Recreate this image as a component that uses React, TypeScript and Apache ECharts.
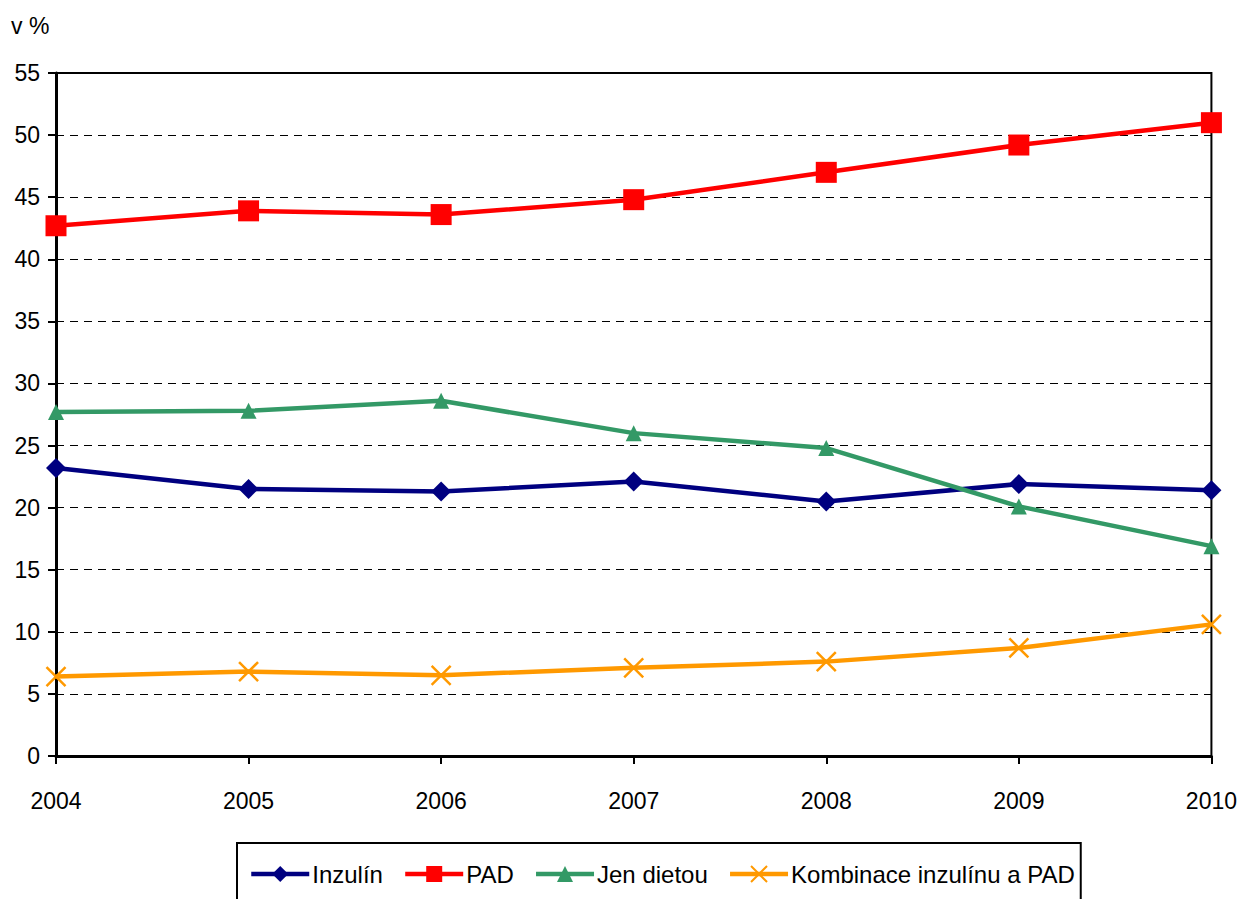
import React, { useEffect, useRef } from "react";
import * as echarts from "echarts";

const years = ["2004", "2005", "2006", "2007", "2008", "2009", "2010"];
const inzulin = [23.2, 21.5, 21.3, 22.1, 20.5, 21.9, 21.4];
const pad = [42.7, 43.9, 43.6, 44.8, 47.0, 49.2, 51.0];
const dieta = [27.7, 27.8, 28.6, 26.0, 24.8, 20.1, 16.9];
const kombinace = [6.4, 6.8, 6.5, 7.1, 7.6, 8.7, 10.6];

const FONT = "'Liberation Sans Narrow', 'Arial Narrow', 'Liberation Sans', Arial, sans-serif";

export default function App() {
  const ref = useRef<HTMLDivElement>(null);
  useEffect(() => {
    const chart = echarts.init(ref.current!, null, { renderer: "svg" });
    const mk = (name: string, data: number[], color: string, symbol: string, size: number, extra: any = {}) => ({
      name,
      type: "line",
      data,
      symbol,
      symbolSize: size,
      showAllSymbol: true,
      lineStyle: { color, width: 4.5 },
      itemStyle: { color, ...extra },
      z: 3,
    });
    chart.setOption({
      animation: false,
      textStyle: { fontFamily: FONT },
      grid: { left: 56, right: 28, top: 73, bottom: 143, show: true, borderColor: "#000", borderWidth: 2, backgroundColor: "transparent" },
      graphic: [
        { type: "text", left: 11, top: 14, style: { text: "v %", font: `23px ${FONT}`, fill: "#000" } },
      ],
      xAxis: {
        type: "category",
        data: years,
        boundaryGap: false,
        axisLine: { lineStyle: { color: "#000", width: 3 } },
        axisTick: { show: true, length: 8, lineStyle: { color: "#000", width: 2 } },
        axisLabel: { color: "#000", fontSize: 23, margin: 33, fontFamily: FONT },
        splitLine: { show: false },
      },
      yAxis: {
        type: "value",
        min: 0,
        max: 55,
        interval: 5,
        axisLine: { show: true, lineStyle: { color: "#000", width: 3 } },
        axisTick: { show: true, length: 8, lineStyle: { color: "#000", width: 2 } },
        axisLabel: { color: "#000", fontSize: 23, margin: 16, fontFamily: FONT },
        splitLine: { show: true, lineStyle: { color: "#000", width: 1, type: [8, 6] } },
      },
      legend: {
        left: 237,
        top: 843,
        padding: [19, 6, 30, 12],
        borderColor: "#000",
        borderWidth: 2,
        itemWidth: 58,
        itemHeight: 20,
        itemGap: 20,
        lineStyle: { width: 4.5 },
        textStyle: { color: "#000", fontSize: 24, fontFamily: FONT, padding: [0, 0, 0, -2] },
        data: ["Inzulín", "PAD", "Jen dietou", "Kombinace inzulínu a PAD"],
      },
      series: [
        mk("Inzulín", inzulin, "#000080", "diamond", 20),
        mk("PAD", pad, "#FF0000", "rect", 21),
        mk("Jen dietou", dieta, "#339966", "triangle", 16),
        mk("Kombinace inzulínu a PAD", kombinace, "#FF9900", "path://M0 0L20 20M20 0L0 20", 19, {
          borderColor: "#FF9900",
          borderWidth: 2.5,
        }),
      ],
    });
    return () => chart.dispose();
  }, []);
  return <div ref={ref} style={{ position: "absolute", left: 0, top: 0, width: 1240, height: 899 }} />;
}
